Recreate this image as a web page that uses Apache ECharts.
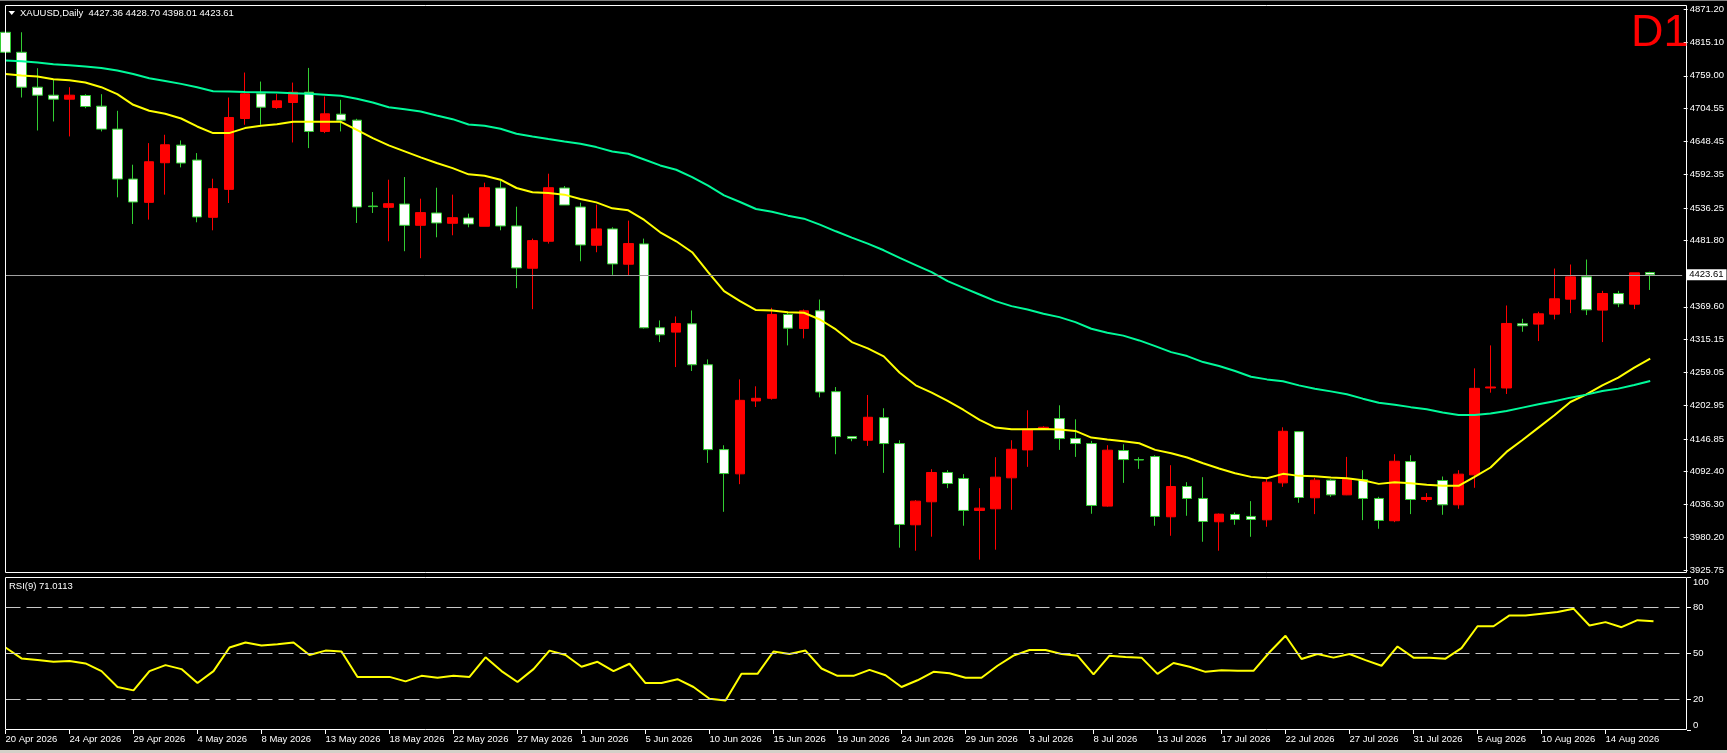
<!DOCTYPE html>
<html>
<head>
<meta charset="utf-8">
<title>XAUUSD,Daily</title>
<script src="https://cdn.jsdelivr.net/npm/echarts@6/dist/echarts.min.js"></script>
<style>
  html, body { margin: 0; padding: 0; background: #000; }
  #chart { width: 1727px; height: 753px; }
</style>
</head>
<body>
<div id="chart"></div>
<script>
// daily bars (broker has a short sunday session, so 6 bars a week)
var dates = [
  '20 Apr 2026','21 Apr 2026','22 Apr 2026','23 Apr 2026','24 Apr 2026','26 Apr 2026',
  '27 Apr 2026','28 Apr 2026','29 Apr 2026','30 Apr 2026','1 May 2026','3 May 2026',
  '4 May 2026','5 May 2026','6 May 2026','7 May 2026','8 May 2026','10 May 2026',
  '11 May 2026','12 May 2026','13 May 2026','14 May 2026','15 May 2026','17 May 2026',
  '18 May 2026','19 May 2026','20 May 2026','21 May 2026','22 May 2026','24 May 2026',
  '25 May 2026','26 May 2026','27 May 2026','28 May 2026','29 May 2026','31 May 2026',
  '1 Jun 2026','2 Jun 2026','3 Jun 2026','4 Jun 2026','5 Jun 2026','7 Jun 2026',
  '8 Jun 2026','9 Jun 2026','10 Jun 2026','11 Jun 2026','12 Jun 2026','14 Jun 2026',
  '15 Jun 2026','16 Jun 2026','17 Jun 2026','18 Jun 2026','19 Jun 2026','21 Jun 2026',
  '22 Jun 2026','23 Jun 2026','24 Jun 2026','25 Jun 2026','26 Jun 2026','28 Jun 2026',
  '29 Jun 2026','30 Jun 2026','1 Jul 2026','2 Jul 2026','3 Jul 2026','5 Jul 2026',
  '6 Jul 2026','7 Jul 2026','8 Jul 2026','9 Jul 2026','10 Jul 2026','12 Jul 2026',
  '13 Jul 2026','14 Jul 2026','15 Jul 2026','16 Jul 2026','17 Jul 2026','19 Jul 2026',
  '20 Jul 2026','21 Jul 2026','22 Jul 2026','23 Jul 2026','24 Jul 2026','26 Jul 2026',
  '27 Jul 2026','28 Jul 2026','29 Jul 2026','30 Jul 2026','31 Jul 2026','2 Aug 2026',
  '3 Aug 2026','4 Aug 2026','5 Aug 2026','6 Aug 2026','7 Aug 2026','9 Aug 2026',
  '10 Aug 2026','11 Aug 2026','12 Aug 2026','13 Aug 2026','14 Aug 2026','16 Aug 2026',
  '17 Aug 2026','18 Aug 2026'
];

var opens = [
  4832.5,4798.8,4739.9,4726.4,4719.7,4725.9,4707.9,4669.2,4585.0,4545.7,4612.5,4642.2,
  4617.0,4520.5,4567.6,4687.1,4728.7,4705.6,4714.1,4731.5,4665.3,4694.4,4684.3,4539.5,
  4537.3,4542.9,4507.0,4527.8,4510.4,4519.4,4505.4,4569.9,4505.9,4434.6,4480.1,4569.9,
  4537.9,4473.4,4500.9,4441.4,4475.6,4334.2,4326.9,4340.9,4271.9,4128.8,4087.9,4210.8,
  4215.3,4356.7,4333.1,4362.8,4226.5,4150.7,4144.6,4182.7,4139.0,4002.0,4040.8,4090.2,
  4080.1,4026.2,4029.0,4081.2,4128.3,4163.7,4181.1,4147.4,4139.0,4033.5,4127.2,4112.0,
  4117.1,4015.5,4066.6,4046.4,4007.1,4019.4,4016.1,4010.4,4072.7,4159.1,4047.5,4077.2,
  4052.5,4078.3,4046.4,4008.8,4108.6,4044.7,4076.7,4035.7,4086.2,4232.7,4232.7,4341.0,
  4340.4,4357.2,4382.5,4420.1,4364.0,4392.0,4374.0,4427.36
];
var highs = [
  4836.0,4832.5,4771.9,4752.2,4739.9,4728.1,4728.1,4700.1,4609.2,4645.6,4659.7,4650.1,
  4628.8,4585.6,4722.5,4764.6,4749.4,4728.7,4747.7,4772.4,4724.2,4718.6,4686.6,4563.1,
  4583.9,4588.4,4551.9,4570.4,4558.7,4526.7,4578.9,4582.2,4538.4,4484.6,4594.0,4573.2,
  4545.2,4541.8,4503.7,4514.9,4484.6,4346.6,4353.3,4363.4,4280.9,4136.1,4247.2,4235.5,
  4367.9,4360.0,4365.1,4381.9,4234.3,4151.5,4220.9,4198.5,4144.6,4043.6,4095.8,4094.1,
  4087.4,4063.8,4116.0,4144.6,4195.1,4168.2,4203.5,4179.9,4143.5,4136.2,4137.8,4115.9,
  4119.3,4102.5,4073.9,4082.3,4021.1,4022.8,4041.9,4078.9,4166.4,4160.0,4081.1,4078.9,
  4116.5,4094.1,4049.2,4121.0,4119.3,4055.4,4083.4,4094.1,4265.8,4304.5,4371.8,4349.4,
  4361.2,4434.1,4440.9,4449.3,4396.5,4396.5,4426.8,4428.70
];
var lows = [
  4735.4,4722.5,4666.9,4682.1,4656.9,4704.5,4665.3,4554.2,4509.3,4516.6,4558.7,4604.7,
  4512.1,4498.6,4544.6,4676.5,4676.5,4703.4,4646.7,4637.2,4662.5,4665.3,4511.0,4527.8,
  4480.1,4463.3,4451.5,4486.8,4490.2,4503.7,4505.4,4498.6,4401.0,4365.6,4476.2,4541.3,
  4446.4,4461.6,4423.4,4422.3,4333.0,4310.1,4268.0,4261.3,4106.4,4023.9,4070.5,4200.7,
  4213.0,4304.5,4316.3,4216.9,4121.0,4142.9,4135.0,4089.6,3963.4,3958.3,3981.9,4063.8,
  4000.4,3943.2,3960.0,4027.3,4099.7,4163.7,4128.3,4116.5,4020.6,4032.4,4072.7,4096.3,
  4000.4,3983.5,4017.2,3973.4,3958.3,4002.0,3981.8,3998.7,4066.0,4039.1,4020.0,4049.2,
  4052.0,4009.9,3995.3,4006.5,4020.0,4040.8,4018.9,4029.0,4064.4,4224.8,4222.6,4327.5,
  4311.8,4348.3,4358.9,4355.6,4310.1,4369.0,4365.7,4398.01
];
var closes = [
  4798.8,4739.9,4726.4,4719.7,4726.4,4707.3,4669.2,4585.0,4546.3,4614.2,4642.8,4612.0,
  4521.1,4568.8,4688.8,4728.7,4706.2,4716.9,4731.5,4665.3,4695.0,4684.3,4537.9,4538.5,
  4543.5,4507.0,4528.4,4511.0,4519.9,4509.3,4570.4,4505.9,4435.2,4481.2,4570.4,4541.3,
  4473.9,4500.9,4441.9,4476.2,4334.2,4322.4,4341.5,4271.9,4128.8,4088.4,4211.9,4215.3,
  4356.7,4333.6,4362.8,4225.9,4150.7,4147.4,4183.3,4139.0,4002.6,4041.9,4090.2,4071.6,
  4026.2,4030.1,4082.3,4129.4,4163.1,4166.5,4147.4,4139.0,4034.6,4127.8,4112.0,4111.2,
  4016.1,4066.6,4046.4,4007.6,4020.0,4011.0,4011.0,4073.9,4159.7,4048.0,4077.2,4052.5,
  4078.9,4046.4,4009.3,4109.2,4044.7,4048.1,4035.7,4087.4,4232.1,4234.4,4341.5,4337.6,
  4357.8,4383.1,4420.1,4364.5,4392.0,4374.6,4426.8,4423.61
];

// moving averages as drawn on the chart (yellow = fast, green = slow)
var maFast = [
  4762.3,4759.5,4757.8,4753.4,4751.7,4747.7,4739.9,4728.1,4710.2,4700.1,4695.0,4687.1,
  4673.7,4662.5,4662.5,4670.9,4674.8,4677.6,4681.5,4681.5,4681.5,4681.5,4668.1,4654.0,
  4641.7,4631.6,4621.5,4612.0,4603.5,4592.9,4590.6,4583.9,4569.9,4562.6,4561.5,4558.7,
  4551.4,4545.7,4535.6,4532.3,4516.0,4495.2,4480.1,4461.6,4427.9,4395.9,4379.1,4364.0,
  4363.4,4360.6,4359.5,4348.2,4331.4,4310.1,4299.4,4286.0,4258.5,4237.2,4224.8,4210.8,
  4195.6,4178.8,4165.9,4163.1,4163.1,4163.7,4162.5,4160.3,4149.1,4145.7,4143.0,4139.5,
  4128.3,4122.7,4115.4,4105.8,4096.9,4089.0,4082.8,4080.6,4087.9,4084.5,4083.9,4081.7,
  4080.6,4077.2,4071.0,4073.9,4072.0,4069.4,4067.7,4067.7,4082.9,4098.6,4124.9,4145.1,
  4165.9,4186.7,4209.1,4222.0,4237.2,4250.1,4266.9,4282.1
];
var maSlow = [
  4784.8,4783.7,4781.4,4778.6,4776.9,4774.7,4772.4,4767.9,4762.3,4755.0,4750.5,4745.5,
  4739.9,4733.2,4732.6,4732.0,4731.5,4730.9,4729.8,4728.7,4727.0,4725.3,4720.3,4714.1,
  4706.2,4702.9,4698.9,4692.2,4686.0,4677.0,4674.8,4669.8,4661.3,4656.8,4652.4,4648.4,
  4644.5,4638.9,4631.6,4627.7,4618.0,4608.0,4600.7,4588.4,4573.8,4557.5,4546.3,4534.5,
  4530.0,4523.3,4518.2,4508.2,4496.9,4486.3,4476.2,4464.9,4452.0,4440.0,4428.0,4412.8,
  4401.6,4390.4,4379.1,4370.7,4365.1,4357.8,4352.2,4343.8,4332.6,4325.8,4321.0,4312.9,
  4303.3,4293.2,4286.5,4276.4,4269.7,4261.3,4251.7,4247.2,4243.9,4237.1,4231.5,4227.0,
  4222.0,4214.7,4207.9,4204.6,4200.4,4196.8,4191.2,4187.2,4187.2,4189.5,4194.0,4199.6,
  4205.2,4210.2,4216.4,4221.5,4227.6,4231.6,4237.7,4244.5
];

var rsi = [
  53.9,46.8,45.7,44.6,45.1,43.5,38.5,28.1,25.9,38.5,42.4,39.8,
  30.7,38.5,53.9,57.2,55.2,56.1,57.2,49.0,51.9,51.3,34.7,34.7,
  34.7,31.8,35.4,34.1,35.4,34.7,47.5,38.5,31.4,39.8,51.9,49.0,
  41.3,44.6,38.5,43.3,30.7,30.7,33.2,28.1,20.4,19.3,36.7,36.7,
  51.3,49.7,51.9,40.2,35.4,35.4,39.3,35.8,28.1,32.5,38.0,37.1,
  34.1,34.1,42.0,48.6,52.3,52.3,49.7,48.6,36.3,48.6,47.7,47.3,
  36.7,43.8,41.3,38.0,39.1,38.7,38.7,50.8,61.6,46.4,49.7,47.3,
  49.7,45.7,42.0,54.6,47.3,47.3,46.6,53.5,67.8,67.8,74.9,74.9,
  76.0,77.1,79.3,68.3,70.5,67.2,71.8,71.0113
];

var priceTicks = [4871.20,4815.10,4759.00,4704.55,4648.45,4592.35,4536.25,4481.80,
  4369.60,4315.15,4259.05,4202.95,4146.85,4092.40,4036.30,3980.20,3925.75];
var rsiTicks = [0, 20, 50, 80, 100];
var rsiLevels = [20, 50, 80];
var lastPrice = 4423.61;

var font = 'Liberation Sans';
var txt = '#ffffff';

// the terminal leaves a little empty room right of the last bar
var xCats = dates.concat(['', '']);
var candles = opens.map(function (o, i) {
  return [o, closes[i], lows[i], highs[i]];
});
// a date label (and tick) every 4th bar, none on the empty slots
function everyFourth(i, v) { return i % 4 === 0 && v !== ''; }

var chart = echarts.init(document.getElementById('chart'));
chart.setOption({
  backgroundColor: '#000000',
  animation: false,
  grid: [
    { left: 5.5, top: 5, width: 1680, height: 567 },
    { left: 5.5, top: 577, width: 1680, height: 153 }
  ],
  xAxis: [
    {
      type: 'category', gridIndex: 0, data: xCats, boundaryGap: false,
      axisLine: { show: false }, axisTick: { show: false },
      axisLabel: { show: false }, splitLine: { show: false }
    },
    {
      type: 'category', gridIndex: 1, data: xCats, boundaryGap: false,
      axisLine: { show: false },
      axisTick: { show: true, interval: everyFourth, length: 4, lineStyle: { color: txt } },
      axisLabel: {
        interval: everyFourth, align: 'left', margin: 4,
        color: txt, fontSize: 9.5, fontFamily: font
      },
      splitLine: { show: false }
    }
  ],
  yAxis: [
    {
      type: 'value', gridIndex: 0, position: 'right', offset: 1.5,
      min: 3922.4, max: 4878.5,
      axisLine: { show: false },
      axisTick: { show: true, customValues: priceTicks, length: 4, lineStyle: { color: txt } },
      axisLabel: {
        customValues: priceTicks, margin: 6,
        formatter: function (v) { return v.toFixed(2); },
        color: txt, fontSize: 9.5, fontFamily: font
      },
      splitLine: { show: false }
    },
    {
      type: 'value', gridIndex: 1, position: 'right', offset: 1.5,
      min: 0, max: 100,
      axisLine: { show: false },
      axisTick: { show: true, customValues: rsiTicks, length: 4, lineStyle: { color: txt } },
      axisLabel: {
        customValues: rsiTicks, margin: 6,
        verticalAlignMinLabel: 'bottom', verticalAlignMaxLabel: 'top',
        color: txt, fontSize: 9.5, fontFamily: font
      },
      splitLine: { show: false }
    }
  ],
  series: [
    {
      name: 'XAUUSD', type: 'candlestick', xAxisIndex: 0, yAxisIndex: 0,
      data: candles, barWidth: 10, silent: true,
      itemStyle: {
        color: '#ff0000', color0: '#ffffff',
        borderColor: '#ff0000', borderColor0: '#32cd32', borderWidth: 1
      },
      markLine: {
        silent: true, symbol: ['none', 'none'], animation: false,
        data: [{ yAxis: lastPrice }],
        lineStyle: { color: '#a0a0a0', type: 'solid', width: 1 },
        label: {
          position: 'end', distance: 4,
          formatter: lastPrice.toFixed(2),
          backgroundColor: '#ffffff', color: '#000000',
          padding: [1, 3, 0, 3], fontSize: 9.5, fontFamily: font
        }
      }
    },
    {
      name: 'MA fast', type: 'line', xAxisIndex: 0, yAxisIndex: 0,
      data: maFast, showSymbol: false, silent: true,
      lineStyle: { color: '#ffff00', width: 2 }
    },
    {
      name: 'MA slow', type: 'line', xAxisIndex: 0, yAxisIndex: 0,
      data: maSlow, showSymbol: false, silent: true,
      lineStyle: { color: '#00fa9a', width: 2 }
    },
    {
      name: 'RSI(9)', type: 'line', xAxisIndex: 1, yAxisIndex: 1,
      data: rsi, showSymbol: false, silent: true,
      lineStyle: { color: '#ffff00', width: 2 },
      markLine: {
        silent: true, symbol: ['none', 'none'], animation: false,
        label: { show: false },
        lineStyle: { color: '#c8c8c8', type: [15, 6], width: 1 },
        data: rsiLevels.map(function (v) { return { yAxis: v }; })
      }
    }
  ],
  graphic: [
    // window frame bits
    { type: 'rect', z: 100, shape: { x: 0, y: 0, width: 1727, height: 1 }, style: { fill: '#808080' } },
    { type: 'rect', z: 100, shape: { x: 0, y: 750, width: 1727, height: 3 }, style: { fill: '#d4d0c8' } },
    // panel borders
    { type: 'rect', z: 100, shape: { x: 5.5, y: 5.5, width: 1681, height: 567 },
      style: { fill: 'none', stroke: '#ffffff', lineWidth: 1 } },
    { type: 'rect', z: 100, shape: { x: 5.5, y: 577.5, width: 1681, height: 152 },
      style: { fill: 'none', stroke: '#ffffff', lineWidth: 1 } },
    // header
    { type: 'polygon', z: 101, shape: { points: [[8.5, 11], [15, 11], [11.75, 15]] },
      style: { fill: '#ffffff' } },
    { type: 'text', z: 101, style: {
        x: 20, y: 13, text: 'XAUUSD,Daily  4427.36 4428.70 4398.01 4423.61',
        fill: txt, font: '9.5px "Liberation Sans"',
        verticalAlign: 'middle', textVerticalAlign: 'middle' } },
    { type: 'text', z: 101, style: {
        x: 1631, y: 34, text: 'D1', fill: '#ff0000', font: '45px "Liberation Sans"',
        verticalAlign: 'middle', textVerticalAlign: 'middle' } },
    { type: 'text', z: 101, style: {
        x: 9, y: 586, text: 'RSI(9) 71.0113', fill: txt, font: '9.5px "Liberation Sans"',
        verticalAlign: 'middle', textVerticalAlign: 'middle' } }
  ]
});
</script>
</body>
</html>
